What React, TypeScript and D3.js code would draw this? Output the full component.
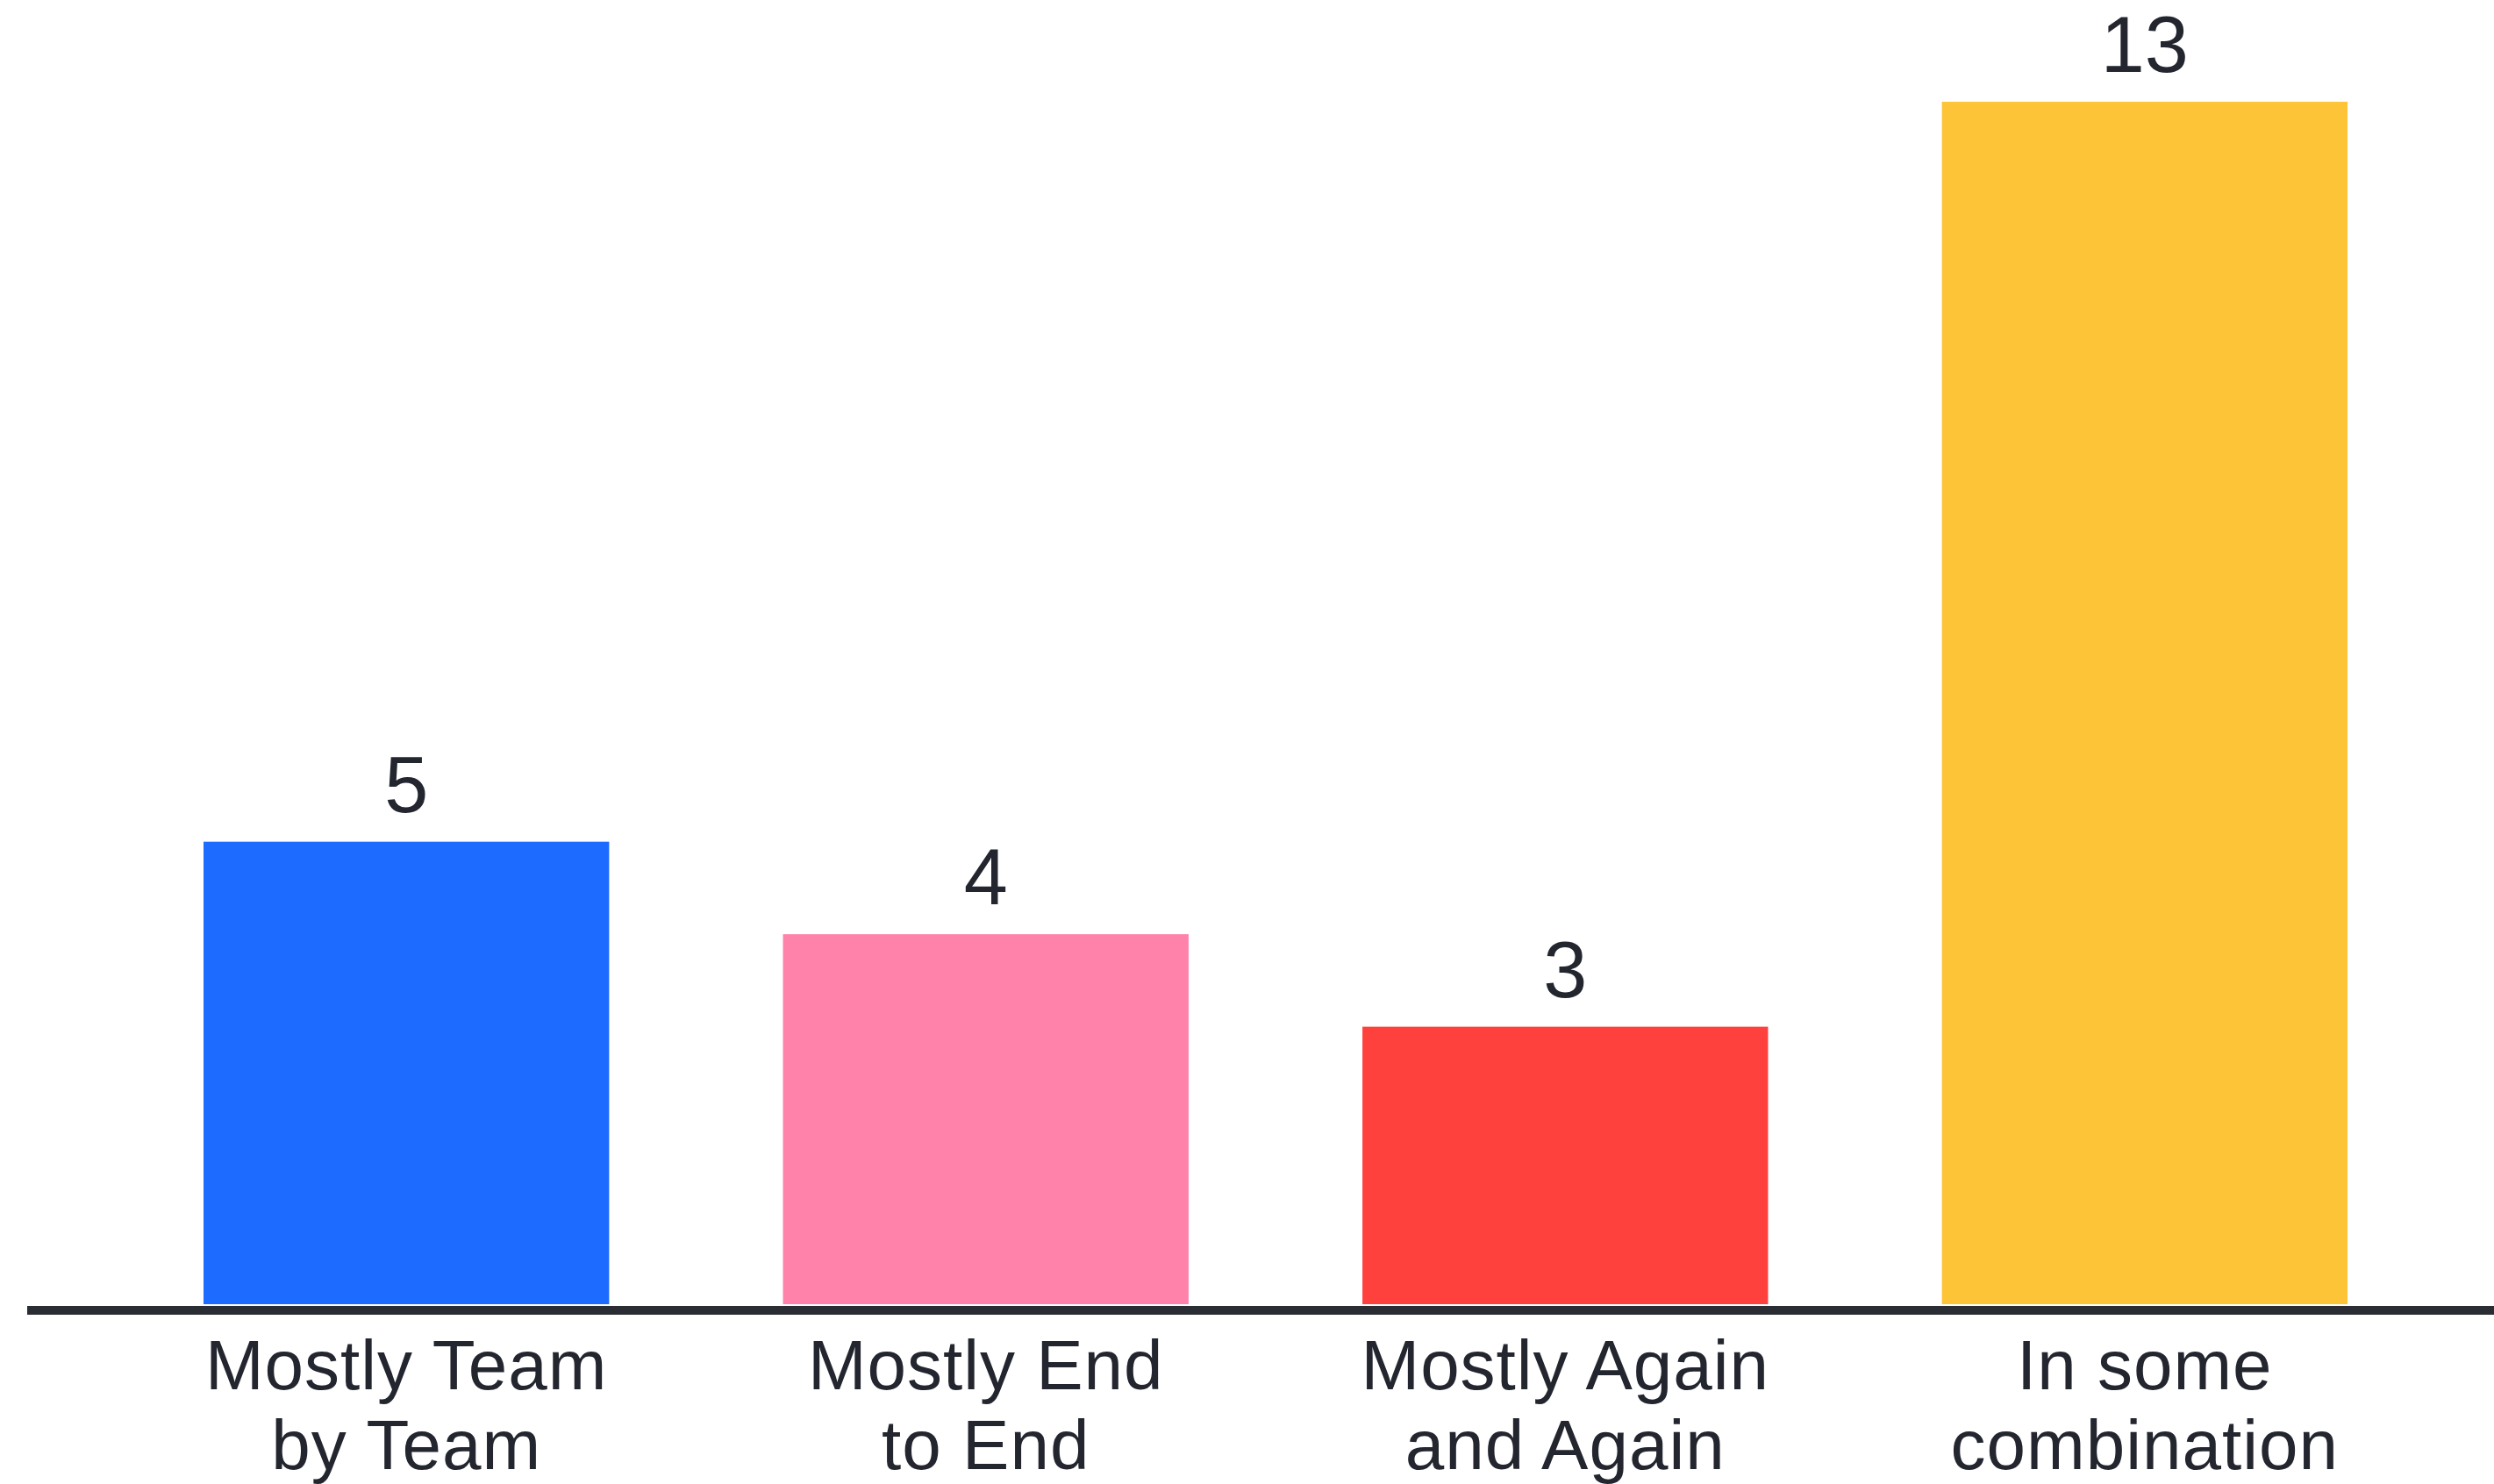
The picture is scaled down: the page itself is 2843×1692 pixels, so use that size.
import React from "react";
import * as d3 from "d3";

const categories: string[] = ["Mostly Team by Team", "Mostly End to End", "Mostly Again and Again", "In some combination"];
const labelLines: string[][] = [
  ["Mostly Team", "by Team"],
  ["Mostly End", "to End"],
  ["Mostly Again", "and Again"],
  ["In some", "combination"],
];
const values: number[] = [5, 4, 3, 13];
const colors: string[] = ["#1D6BFF", "#FF82AA", "#FF413D", "#FDC437"];

const W = 2843;
const H = 1692;

export default function App() {
  const x = d3.scaleBand<string>().domain(categories).range([232, 2676]).paddingInner(0.3).paddingOuter(0);
  const y = d3.scaleLinear().domain([0, 13]).range([1487, 116]);
  const textColor = "#23262F";
  return (
    <svg width={W} height={H} style={{ position: "absolute", left: 0, top: 0, background: "#fff" }}>
      {categories.map((c, i) => (
        <g key={c}>
          <rect x={x(c)} y={y(values[i])} width={x.bandwidth()} height={y(0) - y(values[i])} fill={colors[i]} />
          <text
            x={(x(c) as number) + x.bandwidth() / 2}
            y={y(values[i]) - 34}
            textAnchor="middle"
            fontFamily="Liberation Sans, Arial, sans-serif"
            fontSize={90}
            fill={textColor}
          >
            {values[i]}
          </text>
          {labelLines[i].map((ln, j) => (
            <text
              key={j}
              x={(x(c) as number) + x.bandwidth() / 2}
              y={1584 + j * 91}
              textAnchor="middle"
              fontFamily="Liberation Sans, Arial, sans-serif"
              fontSize={80}
              letterSpacing={1}
              fill={textColor}
            >
              {ln}
            </text>
          ))}
        </g>
      ))}
      <line x1={31} x2={W} y1={y(0) + 7} y2={y(0) + 7} stroke="#2A2D34" strokeWidth={10} />
    </svg>
  );
}
